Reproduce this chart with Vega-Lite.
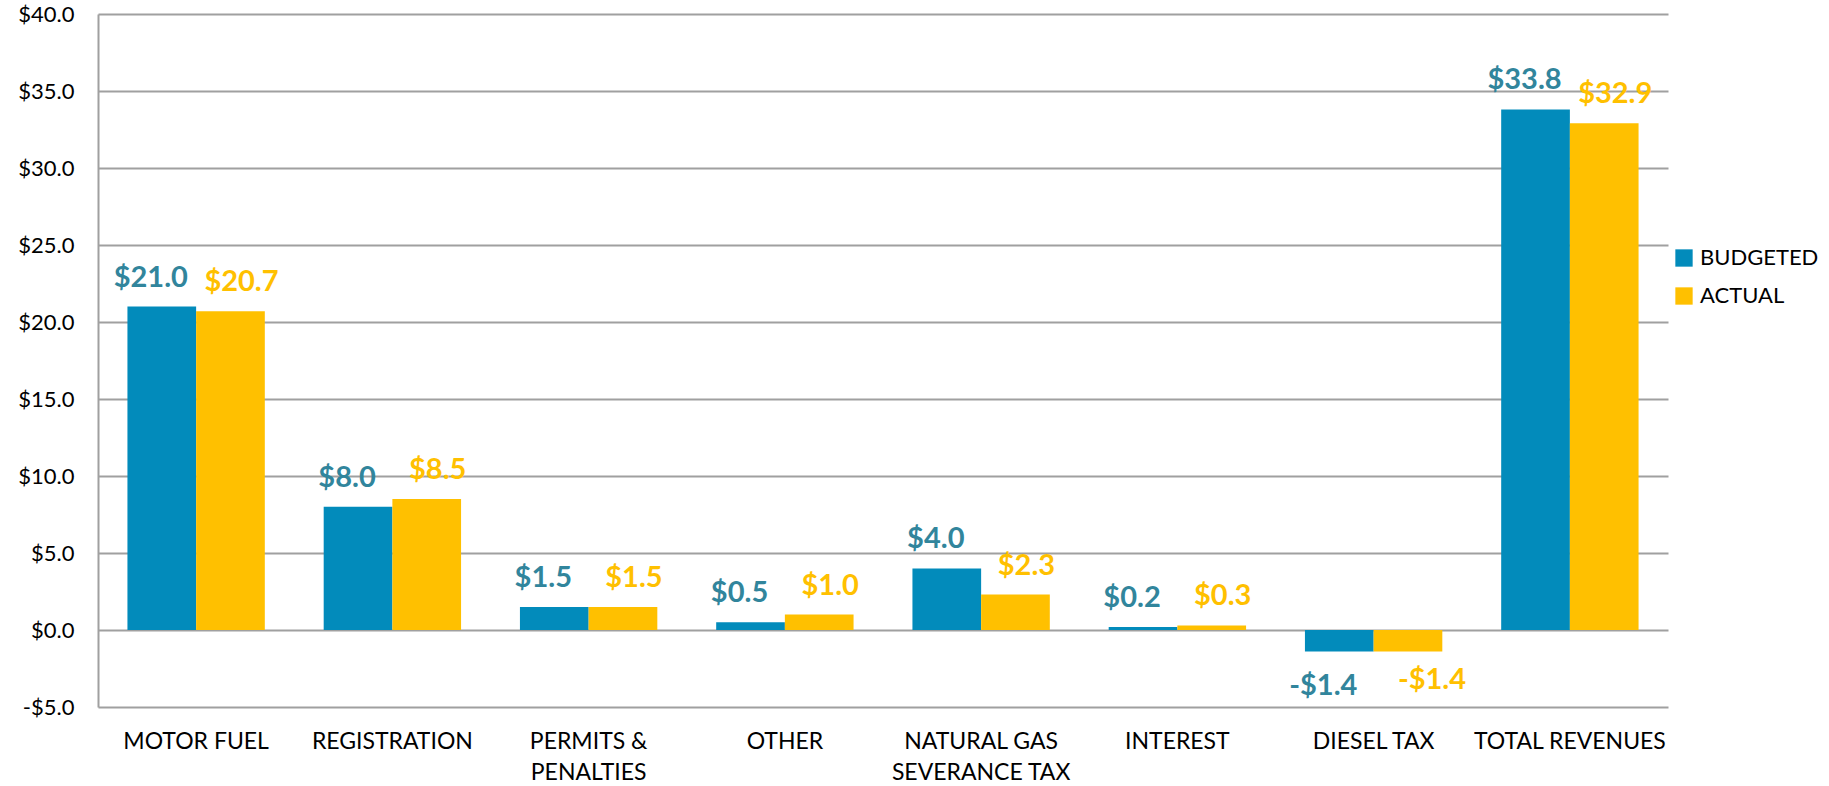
{
  "$schema": "https://vega.github.io/schema/vega-lite/v6.json",
  "width": 1570,
  "height": 693,
  "autosize": {"type": "none"},
  "padding": {"left": 98, "top": 14, "right": 161, "bottom": 79},
  "background": "white",
  "config": {
    "view": {"stroke": null},
    "font": "Lato"
  },
  "data": {
    "values": [
      {"category": "MOTOR FUEL", "series": "BUDGETED", "value": 21.0},
      {"category": "MOTOR FUEL", "series": "ACTUAL", "value": 20.7},
      {"category": "REGISTRATION", "series": "BUDGETED", "value": 8.0},
      {"category": "REGISTRATION", "series": "ACTUAL", "value": 8.5},
      {"category": "PERMITS & PENALTIES", "series": "BUDGETED", "value": 1.5},
      {"category": "PERMITS & PENALTIES", "series": "ACTUAL", "value": 1.5},
      {"category": "OTHER", "series": "BUDGETED", "value": 0.5},
      {"category": "OTHER", "series": "ACTUAL", "value": 1.0},
      {"category": "NATURAL GAS SEVERANCE TAX", "series": "BUDGETED", "value": 4.0},
      {"category": "NATURAL GAS SEVERANCE TAX", "series": "ACTUAL", "value": 2.3},
      {"category": "INTEREST", "series": "BUDGETED", "value": 0.2},
      {"category": "INTEREST", "series": "ACTUAL", "value": 0.3},
      {"category": "DIESEL TAX", "series": "BUDGETED", "value": -1.4},
      {"category": "DIESEL TAX", "series": "ACTUAL", "value": -1.4},
      {"category": "TOTAL REVENUES", "series": "BUDGETED", "value": 33.8},
      {"category": "TOTAL REVENUES", "series": "ACTUAL", "value": 32.9}
    ]
  },
  "transform": [
    {"calculate": "datum.value < 0 ? '-$' + format(-datum.value, '.1f') : '$' + format(datum.value, '.1f')", "as": "label"}
  ],
  "encoding": {
    "x": {
      "field": "category",
      "type": "nominal",
      "sort": null,
      "scale": {"paddingInner": 0.3, "paddingOuter": 0.15},
      "axis": {
        "title": null,
        "labelAngle": 0,
        "labelFont": "Lato",
        "labelFontSize": 23,
        "labelColor": "#000000",
        "labelPadding": 23,
        "labelLineHeight": 31,
        "labelBaseline": "top",
        "labelLimit": 0,
        "labelOverlap": false,
        "ticks": false,
        "domain": false,
        "labelExpr": "datum.value == 'PERMITS & PENALTIES' ? ['PERMITS &', 'PENALTIES'] : datum.value == 'NATURAL GAS SEVERANCE TAX' ? ['NATURAL GAS', 'SEVERANCE TAX'] : datum.value"
      }
    },
    "xOffset": {
      "field": "series",
      "type": "nominal",
      "sort": ["BUDGETED", "ACTUAL"],
      "scale": {"paddingInner": 0, "paddingOuter": 0}
    },
    "y": {
      "field": "value",
      "type": "quantitative",
      "scale": {"domain": [-5, 40], "nice": false, "zero": false},
      "axis": {
        "title": null,
        "values": [-5, 0, 5, 10, 15, 20, 25, 30, 35, 40],
        "labelExpr": "datum.value < 0 ? '-$' + format(-datum.value, '.1f') : '$' + format(datum.value, '.1f')",
        "labelFont": "Lato",
        "labelFontSize": 22,
        "labelColor": "#000000",
        "labelPadding": 24,
        "ticks": false,
        "domainColor": "#A0A0A0",
        "domainWidth": 2,
        "gridColor": "#A0A0A0",
        "gridWidth": 2,
        "gridOpacity": 1
      }
    }
  },
  "layer": [
    {
      "mark": {"type": "bar", "stroke": null},
      "encoding": {
        "color": {
          "field": "series",
          "type": "nominal",
          "sort": ["BUDGETED", "ACTUAL"],
          "scale": {"domain": ["BUDGETED", "ACTUAL"], "range": ["#028BBB", "#FFC000"]},
          "legend": {
            "title": null,
            "orient": "none",
            "legendX": 1575,
            "legendY": 233,
            "symbolType": "square",
            "symbolSize": 300,
            "symbolStrokeWidth": 0,
            "labelFont": "Lato",
            "labelFontSize": 22,
            "labelColor": "#000000",
            "labelOffset": 5,
            "rowPadding": 16
          }
        }
      }
    },
    {
      "transform": [{"filter": "datum.series == 'BUDGETED' && datum.value >= 0"}],
      "mark": {"type": "text", "fontSize": 29, "fontWeight": "bold", "color": "#31859C", "baseline": "alphabetic", "dy": -20, "dx": -11},
      "encoding": {
        "text": {"field": "label", "type": "nominal"}
      }
    },
    {
      "transform": [{"filter": "datum.series == 'ACTUAL' && datum.value >= 0"}],
      "mark": {"type": "text", "fontSize": 29, "fontWeight": "bold", "color": "#FFC000", "baseline": "alphabetic", "dy": -20, "dx": 11},
      "encoding": {
        "text": {"field": "label", "type": "nominal"}
      }
    },
    {
      "transform": [{"filter": "datum.series == 'BUDGETED' && datum.value < 0"}],
      "mark": {"type": "text", "fontSize": 29, "fontWeight": "bold", "color": "#31859C", "baseline": "alphabetic", "dy": 43, "dx": -16},
      "encoding": {
        "text": {"field": "label", "type": "nominal"}
      }
    },
    {
      "transform": [{"filter": "datum.series == 'ACTUAL' && datum.value < 0"}],
      "mark": {"type": "text", "fontSize": 29, "fontWeight": "bold", "color": "#FFC000", "baseline": "alphabetic", "dy": 37, "dx": 24},
      "encoding": {
        "text": {"field": "label", "type": "nominal"}
      }
    }
  ]
}
